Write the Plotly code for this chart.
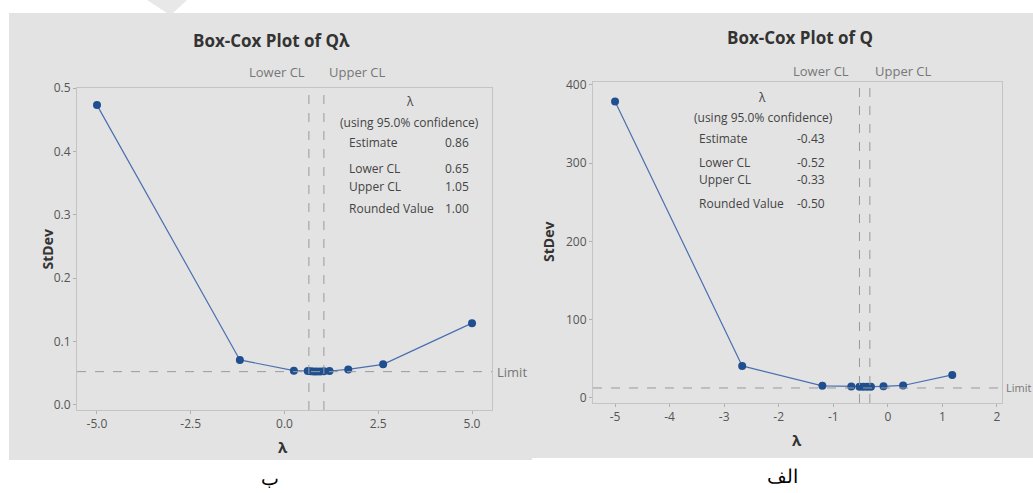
import plotly.graph_objects as go

# ---------------- data ----------------
# Panel "ب" (left): Box-Cox Plot of Qλ
left_lambda = [-5.0, -1.19, 0.25, 0.62, 0.70, 0.78, 0.86, 0.95, 1.05, 1.20, 1.70, 2.63, 5.0]
left_stdev = [0.473, 0.071, 0.054, 0.0535, 0.053, 0.0528, 0.0527, 0.0528, 0.053, 0.0535, 0.056, 0.064, 0.129]
left_limit = 0.0525
left_table = {"Estimate": "0.86", "Lower CL": "0.65", "Upper CL": "1.05", "Rounded Value": "1.00"}
left_lower_cl = 0.65
left_upper_cl = 1.05
left_xticks = [-5.0, -2.5, 0.0, 2.5, 5.0]
left_xticklabels = ["-5.0", "-2.5", "0.0", "2.5", "5.0"]
left_yticks = [0.0, 0.1, 0.2, 0.3, 0.4, 0.5]
left_yticklabels = ["0.0", "0.1", "0.2", "0.3", "0.4", "0.5"]

# Panel "الف" (right): Box-Cox Plot of Q
right_lambda = [-5.0, -2.67, -1.20, -0.67, -0.52, -0.45, -0.38, -0.31, -0.08, 0.28, 1.18]
right_stdev = [379, 41, 15.5, 14.8, 14.5, 14.4, 14.4, 14.5, 14.9, 16.0, 29.5]
right_limit = 12.8
right_table = {"Estimate": "-0.43", "Lower CL": "-0.52", "Upper CL": "-0.33", "Rounded Value": "-0.50"}
right_lower_cl = -0.52
right_upper_cl = -0.33
right_xticks = [-5, -4, -3, -2, -1, 0, 1, 2]
right_xticklabels = ["-5", "-4", "-3", "-2", "-1", "0", "1", "2"]
right_yticks = [0, 100, 200, 300, 400]
right_yticklabels = ["0", "100", "200", "300", "400"]

titles = ["Box-Cox Plot of Q\u03bb", "Box-Cox Plot of Q"]
captions = ["\u0628", "\u0627\u0644\u0641"]

# ---------------- layout helpers ----------------
W, H = 1033, 493


def px(x):
    return x / W


def py(y):
    return 1 - y / H


FONT = "Open Sans"
PANEL = "#e3e3e3"
TXT = "#444444"
LINE = "#4a6fb0"
MARK = "#1f4f8f"
DASH = "#9a9a9a"

fig = go.Figure()

fig.add_trace(go.Scatter(x=left_lambda, y=left_stdev, mode="lines+markers",
                         line=dict(color=LINE, width=1.2),
                         marker=dict(color=MARK, size=8),
                         xaxis="x", yaxis="y", showlegend=False, hoverinfo="skip"))
fig.add_trace(go.Scatter(x=right_lambda, y=right_stdev, mode="lines+markers",
                         line=dict(color=LINE, width=1.2),
                         marker=dict(color=MARK, size=8),
                         xaxis="x2", yaxis="y2", showlegend=False, hoverinfo="skip"))

axis_common = dict(showgrid=False, zeroline=False, showline=True, linecolor="#c4c4c4",
                   linewidth=1, mirror=True, ticks="outside", ticklen=3, automargin=False,
                   tickcolor="#b0b0b0", tickfont=dict(family=FONT, size=12, color="#555555"),
                   tickmode="array")

fig.update_layout(
    width=W, height=H, autosize=False,
    margin=dict(l=0, r=0, t=0, b=0, pad=0, autoexpand=False),
    paper_bgcolor="white", plot_bgcolor="white",
    xaxis=dict(domain=[px(77), px(492)], range=[-5.533, 5.533], anchor="y",
               tickvals=left_xticks, ticktext=left_xticklabels, **axis_common),
    yaxis=dict(domain=[py(410), py(88)], range=[-0.008, 0.5], anchor="x",
               tickvals=left_yticks, ticktext=left_yticklabels, **axis_common),
    xaxis2=dict(domain=[px(593), px(1002)], range=[-5.404, 2.092], anchor="y2",
                tickvals=right_xticks, ticktext=right_xticklabels, **axis_common),
    yaxis2=dict(domain=[py(403), py(82)], range=[-6.4, 403.8], anchor="x2",
                tickvals=right_yticks, ticktext=right_yticklabels, **axis_common),
)

shapes = []
# gray panels
shapes.append(dict(type="rect", xref="paper", yref="paper", x0=px(9), x1=px(532),
                   y0=py(460), y1=py(13), fillcolor=PANEL, line=dict(width=0), layer="below"))
shapes.append(dict(type="rect", xref="paper", yref="paper", x0=px(532), x1=px(1033),
                   y0=py(458), y1=py(13), fillcolor=PANEL, line=dict(width=0), layer="below"))
# small decoration at top
shapes.append(dict(type="path", xref="paper", yref="paper",
                   path=f"M {px(147)} {py(0)} L {px(187)} {py(0)} L {px(173)} {py(13)} L {px(167)} {py(13)} Z",
                   fillcolor="#e8e8e8", line=dict(width=0), layer="below"))

for xa, ya, lo, up, lim in [("x", "y", left_lower_cl, left_upper_cl, left_limit),
                            ("x2", "y2", right_lower_cl, right_upper_cl, right_limit)]:
    for v in (lo, up):
        shapes.append(dict(type="line", xref=xa, yref=f"{ya} domain", x0=v, x1=v, y0=0, y1=1,
                           line=dict(color=DASH, width=1, dash="dash")))
    shapes.append(dict(type="line", xref=f"{xa} domain", yref=ya, x0=0, x1=1, y0=lim, y1=lim,
                       line=dict(color=DASH, width=1, dash="dash")))
fig.update_layout(shapes=shapes)

ann = []


def text(x, y, s, size=10, color=TXT, xanchor="center", bold=False, xref="paper", yref="paper",
         xshift=0):
    ann.append(dict(x=x, y=y, xref=xref, yref=yref, text=f"<b>{s}</b>" if bold else s,
                    showarrow=False, xanchor=xanchor, yanchor="middle", xshift=xshift,
                    font=dict(family=FONT, size=size, color=color)))


# titles
text(px(271), py(40), titles[0], size=17, color="#333333", bold=True)
text(px(800), py(37), titles[1], size=17, color="#333333", bold=True)

# CL labels (positioned next to the CL lines)
CLC = "#777777"
text(left_lower_cl, py(72), "Lower CL", size=13, color=CLC, xanchor="right", xref="x", xshift=-2)
text(left_upper_cl, py(72), "Upper CL", size=13, color=CLC, xanchor="left", xref="x", xshift=3)
text(right_lower_cl, py(71), "Lower CL", size=13, color=CLC, xanchor="right", xref="x2", xshift=-8)
text(right_upper_cl, py(71), "Upper CL", size=13, color=CLC, xanchor="left", xref="x2", xshift=3)

# Limit labels
text(px(495), left_limit, "Limit", size=13, color=CLC, xanchor="left", yref="y")
text(px(1004), right_limit, "Limit", size=11, color=CLC, xanchor="left", yref="y2")

# axis titles
text(px(283), py(447), "\u03bb", size=15, color="#333333", bold=True)
text(px(797), py(440), "\u03bb", size=15, color="#333333", bold=True)
for x, y in [(35, 250), (548, 242)]:
    ann.append(dict(x=px(x), y=py(y), xref="paper", yref="paper", text="<b>StDev</b>", showarrow=False,
                    textangle=-90, font=dict(family=FONT, size=14, color="#333333")))

# tables
TS = 12
rows_y_left = [143, 168, 186, 208]
rows_y_right = [138, 162, 179, 203]
text(px(410), py(102), "\u03bb", size=TS)
text(px(409), py(123), "(using 95.0% confidence)", size=TS)
for (k, v), yy in zip(left_table.items(), rows_y_left):
    text(px(347), py(yy), k, size=TS, xanchor="left")
    text(px(471), py(yy), v, size=TS, xanchor="right")
text(px(762), py(97), "\u03bb", size=TS)
text(px(763), py(117), "(using 95.0% confidence)", size=TS)
for (k, v), yy in zip(right_table.items(), rows_y_right):
    text(px(697), py(yy), k, size=TS, xanchor="left")
    text(px(827), py(yy), v, size=TS, xanchor="right")

# captions
text(px(270), py(478), captions[0], size=19, color="#000000")
text(px(782), py(476), captions[1], size=19, color="#000000")

fig.update_layout(annotations=ann)

fig.write_html("out.html", config={"displayModeBar": False},
               post_script="document.body.style.margin='0';document.body.style.overflow='hidden';")
